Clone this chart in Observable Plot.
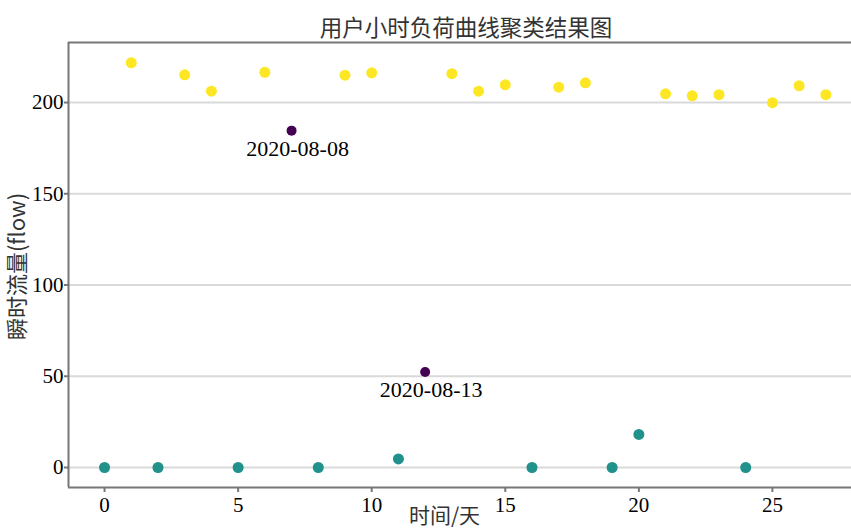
<!DOCTYPE html>
<html>
<head>
<meta charset="utf-8">
<script src="https://cdn.jsdelivr.net/npm/d3@7"></script>
<script src="https://cdn.jsdelivr.net/npm/@observablehq/plot@0.6"></script>
<style>
  html, body { margin: 0; padding: 0; background: #fff; }
  #title { height: 36px; line-height: 52px; text-align: center; font-family: "Noto Sans CJK SC", sans-serif; font-size: 22.5px; color: #333; padding-left: 81px; box-sizing: border-box; width: 851px; white-space: nowrap; }
  #chart svg text { font-family: "Liberation Serif", "DejaVu Serif", serif !important; }
  #chart svg text.cjk, #chart svg g.cjk text { font-family: "Noto Sans CJK SC", sans-serif !important; }
</style>
</head>
<body>
<div id="title">用户小时负荷曲线聚类结果图</div>
<div id="chart"></div>
<script>
const titleText = "用户小时负荷曲线聚类结果图";
const xLabel = "时间/天";
const yLabel = "瞬时流量(flow)";
const xTicks = [0, 5, 10, 15, 20, 25];
const yTicks = [0, 50, 100, 150, 200];

// Cluster: high load (yellow)
const highDays = [1, 3, 4, 6, 9, 10, 13, 14, 15, 17, 18, 21, 22, 23, 25, 26, 27];
const highVals = [221.8, 215.2, 206.2, 216.6, 215.0, 216.3, 215.8, 206.2, 209.7, 208.4, 210.8, 204.8, 203.7, 204.3, 199.9, 209.2, 204.3];
// Cluster: low load (teal)
const lowDays = [0, 2, 5, 8, 11, 16, 19, 20, 24];
const lowVals = [0, 0, 0, 0, 4.7, 0, 0, 18.1, 0];
// Outliers (purple)
const outDays = [7, 12];
const outVals = [184.6, 52.3];
const outLabels = ["2020-08-08", "2020-08-13"];

const colors = {high: "#fde725", low: "#21918c", out: "#440154"};

const pts = [];
highDays.forEach((d, i) => pts.push({day: d, v: highVals[i], c: "high"}));
lowDays.forEach((d, i) => pts.push({day: d, v: lowVals[i], c: "low"}));
const outs = outDays.map((d, i) => ({day: d, v: outVals[i], c: "out", label: outLabels[i]}));

const xDom = [-1.35, 27.96];
const yDom = [-10.96, 232.9];

const plot = Plot.plot({
  width: 851,
  height: 493,
  marginTop: 6,
  marginBottom: 42,
  marginLeft: 68,
  marginRight: 0,
  style: {fontSize: "21px", color: "#000", background: "#fff"},
  x: {domain: xDom, ticks: xTicks, tickFormat: d => String(d)},
  y: {domain: yDom, ticks: yTicks, tickFormat: d => String(d)},
  marks: [
    Plot.gridY(yTicks, {stroke: "#d9d9d9", strokeOpacity: 1, strokeWidth: 2}),
    Plot.axisX(xTicks, {label: null, tickSize: 5, tickPadding: 5, stroke: "#777", strokeWidth: 2, fontSize: 21, fill: "#000"}),
    Plot.axisY(yTicks, {label: null, tickSize: 4, tickPadding: 1, stroke: "#777", strokeWidth: 2, fontSize: 21, fill: "#000"}),
    Plot.ruleX([xDom[0]], {stroke: "#777", strokeWidth: 2}),
    Plot.ruleY([yDom[0]], {stroke: "#777", strokeWidth: 2}),
    Plot.ruleY([yDom[1]], {stroke: "#777", strokeWidth: 2}),
    Plot.dot(pts, {x: "day", y: "v", r: 5.5, fill: d => colors[d.c], stroke: "none"}),
    Plot.dot(outs, {x: "day", y: "v", r: 5, fill: colors.out, stroke: "none"}),
    Plot.text(outs, {x: "day", y: "v", text: "label", dx: 6, dy: 18, fontSize: 22, fill: "#000"}),
    Plot.text([xLabel], {frameAnchor: "bottom", dy: 29, dx: -15.5, lineAnchor: "middle", textAnchor: "middle", fontSize: 21, fill: "#333", className: "cjk"}),
    Plot.text([yLabel], {frameAnchor: "left", dx: -51, dy: 1.5, rotate: -90, textAnchor: "middle", lineAnchor: "middle", fontSize: 22, fill: "#333", className: "cjk"})
  ]
});
document.getElementById("chart").appendChild(plot);
</script>
</body>
</html>
